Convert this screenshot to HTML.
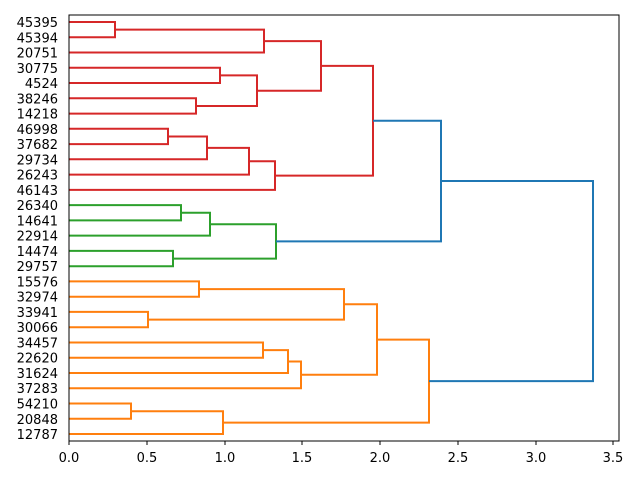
<!DOCTYPE html>
<html><head><meta charset="utf-8"><style>body{margin:0;background:#fff}svg{display:block}</style></head><body>
<svg width="640" height="480" xmlns="http://www.w3.org/2000/svg" font-family="DejaVu Sans, Liberation Sans, sans-serif" font-size="13">
<g fill="none" stroke-width="2">
<g stroke="#d62728">
<path d="M69,22H115V37.3H69"/>
<path d="M115,29.6H264V52.5H69"/>
<path d="M69,67.8H220V83H69"/>
<path d="M69,98.3H196V113.6H69"/>
<path d="M220,75.4H257V106H196"/>
<path d="M264,41.1H321V90.7H257"/>
<path d="M69,128.8H168V144.1H69"/>
<path d="M168,136.5H207V159.3H69"/>
<path d="M207,147.9H249V174.6H69"/>
<path d="M249,161.2H275V189.9H69"/>
<path d="M321,65.9H373V175.6H275"/>
</g>
<g stroke="#2ca02c">
<path d="M69,205.1H181V220.4H69"/>
<path d="M181,212.8H210V235.6H69"/>
<path d="M69,250.9H173V266.2H69"/>
<path d="M210,224.2H276V258.6H173"/>
</g>
<g stroke="#ff7f0e">
<path d="M69,281.4H199V296.7H69"/>
<path d="M69,311.9H148V327.2H69"/>
<path d="M199,289.1H344V319.6H148"/>
<path d="M69,342.5H263V357.7H69"/>
<path d="M263,350.1H288V373H69"/>
<path d="M288,361.5H301V388.2H69"/>
<path d="M344,304.3H377V374.8H301"/>
<path d="M69,403.5H131V418.8H69"/>
<path d="M131,411.2H223V434H69"/>
<path d="M377,339.6H429V422.6H223"/>
</g>
<g stroke="#1f77b4">
<path d="M373,120.7H441V241.4H276"/>
<path d="M441,181H593V381.1H429"/>
</g>
</g>
<rect x="69" y="15" width="550" height="426" fill="none" stroke="#000" stroke-width="1"/>
<g stroke="#000">
<path d="M69,441v4M147,441v4M225,441v4M302,441v4M380,441v4M458,441v4M536,441v4M613,441v4"/>
</g>
<g text-anchor="middle" fill="#000">
<text x="69" y="462">0.0</text><text x="147" y="462">0.5</text><text x="225" y="462">1.0</text><text x="302" y="462">1.5</text><text x="380" y="462">2.0</text><text x="458" y="462">2.5</text><text x="536" y="462">3.0</text><text x="613" y="462">3.5</text>
</g>
<g text-anchor="end" fill="#000" transform="translate(0,5)">
<text x="58" y="22">45395</text><text x="58" y="37.3">45394</text><text x="58" y="52.5">20751</text><text x="58" y="67.8">30775</text><text x="58" y="83">4524</text><text x="58" y="98.3">38246</text><text x="58" y="113.6">14218</text><text x="58" y="128.8">46998</text><text x="58" y="144.1">37682</text><text x="58" y="159.3">29734</text><text x="58" y="174.6">26243</text><text x="58" y="189.9">46143</text><text x="58" y="205.1">26340</text><text x="58" y="220.4">14641</text><text x="58" y="235.6">22914</text><text x="58" y="250.9">14474</text><text x="58" y="266.2">29757</text><text x="58" y="281.4">15576</text><text x="58" y="296.7">32974</text><text x="58" y="311.9">33941</text><text x="58" y="327.2">30066</text><text x="58" y="342.5">34457</text><text x="58" y="357.7">22620</text><text x="58" y="373">31624</text><text x="58" y="388.2">37283</text><text x="58" y="403.5">54210</text><text x="58" y="418.8">20848</text><text x="58" y="434">12787</text>
</g>
</svg>
</body></html>
